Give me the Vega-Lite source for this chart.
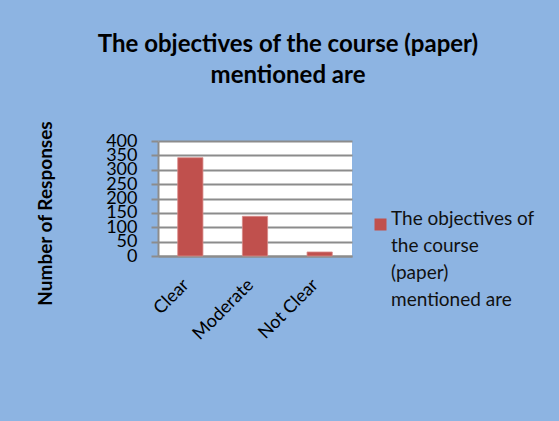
{
  "$schema": "https://vega.github.io/schema/vega-lite/v6.json",
  "width": 194,
  "height": 115,
  "autosize": {"type": "none"},
  "padding": {"left": 158, "top": 141, "right": 207, "bottom": 165},
  "background": "#8DB4E2",
  "title": {
    "text": ["The objectives of the course (paper)", "mentioned are"],
    "font": "Lato",
    "fontSize": 24,
    "fontWeight": "bold",
    "color": "#000000",
    "lineHeight": 31,
    "anchor": "middle",
    "frame": "group",
    "dx": 33,
    "offset": 32
  },
  "data": {
    "values": [
      {"response": "Clear", "count": 342, "series": "The objectives of the course (paper) mentioned are"},
      {"response": "Moderate", "count": 138, "series": "The objectives of the course (paper) mentioned are"},
      {"response": "Not Clear", "count": 14, "series": "The objectives of the course (paper) mentioned are"}
    ]
  },
  "mark": {"type": "bar", "stroke": "#D88A88", "strokeWidth": 0.8},
  "encoding": {
    "x": {
      "field": "response",
      "type": "nominal",
      "sort": null,
      "scale": {"paddingInner": 0.61, "paddingOuter": 0.305},
      "axis": {
        "title": null,
        "labelAngle": -45,
        "labelAlign": "right",
        "labelBaseline": "middle",
        "labelPadding": 26,
        "labelOffset": -4,
        "labelFont": "Lato",
        "labelFontSize": 18,
        "labelColor": "#000000",
        "ticks": false,
        "domainColor": "#8C8C8C",
        "domainWidth": 2
      }
    },
    "y": {
      "field": "count",
      "type": "quantitative",
      "scale": {"domain": [0, 400]},
      "axis": {
        "values": [0, 50, 100, 150, 200, 250, 300, 350, 400],
        "title": "Number of Responses",
        "titleFont": "Lato",
        "titleFontSize": 19,
        "titleFontWeight": "bold",
        "titleColor": "#000000",
        "titleAngle": 270,
        "titleX": -113,
        "titleY": 72,
        "titleAlign": "center",
        "titleBaseline": "middle",
        "labelFont": "Lato",
        "labelFontSize": 18,
        "labelColor": "#000000",
        "labelPadding": 14,
        "labelOverlap": false,
        "labelFlush": false,
        "tickSize": 7,
        "tickColor": "#8C8C8C",
        "tickWidth": 2,
        "domainColor": "#8C8C8C",
        "domainWidth": 2,
        "grid": true,
        "gridColor": "#8C8C8C",
        "gridWidth": 2
      }
    },
    "color": {
      "field": "series",
      "type": "nominal",
      "scale": {"range": ["#C0504D"]},
      "legend": {
        "title": null,
        "orient": "none",
        "legendX": 213,
        "legendY": 74,
        "padding": 0,
        "symbolType": "square",
        "symbolSize": 144,
        "symbolStrokeWidth": 0,
        "labelFont": "Lato",
        "labelFontSize": 19,
        "labelColor": "#111111",
        "labelOffset": 1,
        "labelLimit": 300,
        "labelBaseline": "alphabetic",
        "labelExpr": "['The objectives of', 'the course', '(paper)', 'mentioned are']"
      }
    }
  },
  "config": {
    "view": {"fill": "#FFFFFF", "stroke": null},
    "style": {"guide-label": {"lineHeight": 27}}
  }
}
